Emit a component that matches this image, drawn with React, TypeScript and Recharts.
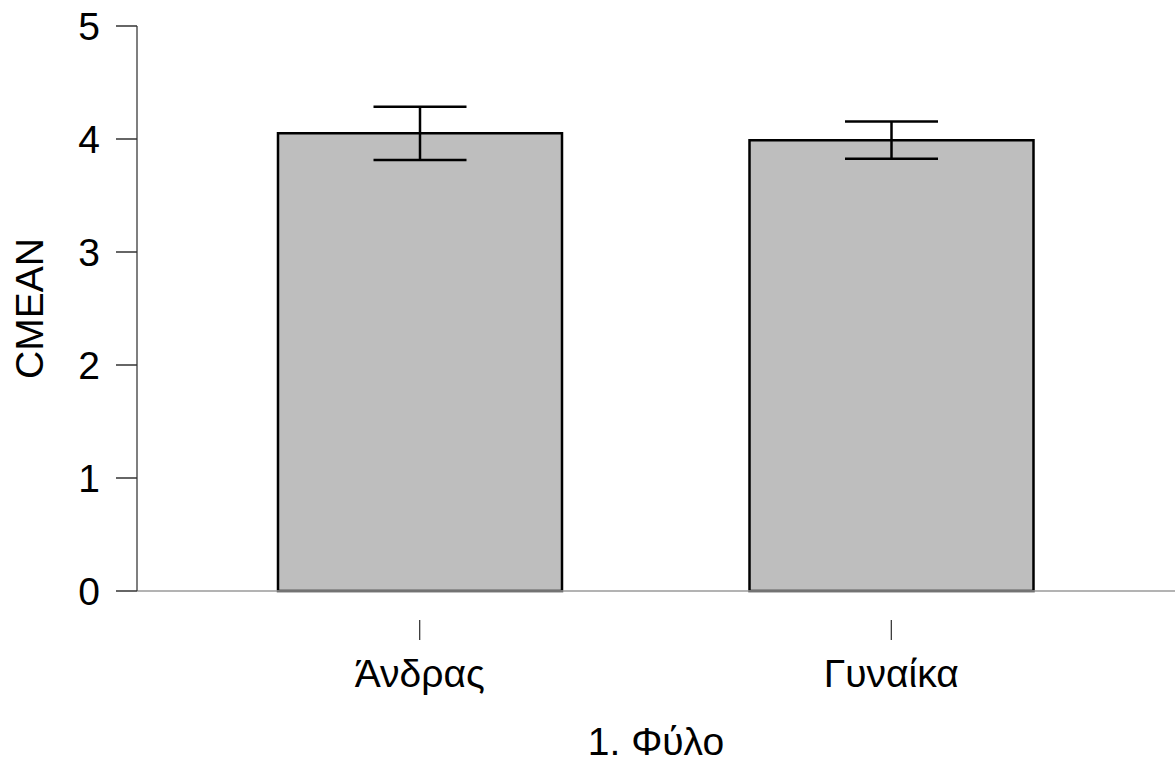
import { BarChart, Bar, XAxis, YAxis, ErrorBar, Label } from "recharts";

// group means of CMEAN by sex, with their error half-widths
const categories = ["Άνδρας", "Γυναίκα"];
const means = [4.05, 3.99];
const errors = [0.235, 0.165];
const yTicks = [0, 1, 2, 3, 4, 5];

const data = categories.map((group, i) => ({
  group,
  mean: means[i],
  err: errors[i],
}));

const FONT = "'Liberation Sans', Arial, sans-serif";
const FS = 39;

// x tick: a short mark detached from the axis line, then the label under it
const GroupTick = (props: any) => {
  const { x, y, payload } = props;
  return (
    <g>
      <line x1={x} x2={x} y1={y + 29} y2={y + 49} stroke="#000" strokeWidth={1} />
      <text
        x={x}
        y={y + 96}
        textAnchor="middle"
        fontSize={FS}
        fontFamily={FONT}
        fill="#000"
      >
        {payload.value}
      </text>
    </g>
  );
};

export default function App() {
  return (
    <div style={{ position: "absolute", left: 0, top: 0, background: "#fff" }}>
      <BarChart
        width={1175}
        height={775}
        data={data}
        margin={{ top: 26, right: 0, bottom: 0, left: 0 }}
      >
        <XAxis
          dataKey="group"
          height={184}
          padding={{ left: 47, right: 48 }}
          axisLine={{ stroke: "#9a9a9a", strokeWidth: 1.5 }}
          tickLine={false}
          tickSize={0}
          tickMargin={0}
          tick={<GroupTick />}
          interval={0}
        >
          <Label
            content={({ viewBox }: any) => (
              <text
                x={viewBox.x + viewBox.width / 2}
                y={viewBox.y + 164}
                textAnchor="middle"
                fontSize={FS}
                fontFamily={FONT}
                fill="#000"
              >
                1. Φύλο
              </text>
            )}
          />
        </XAxis>
        <YAxis
          width={137}
          domain={[0, 5]}
          ticks={yTicks}
          interval={0}
          tickSize={21}
          tickMargin={16}
          axisLine={{ stroke: "#555", strokeWidth: 1.5 }}
          tickLine={{ stroke: "#333", strokeWidth: 1.5 }}
          tick={{ fontSize: FS, fontFamily: FONT, fill: "#000" }}
        >
          <Label
            content={({ viewBox }: any) => {
              const cx = 43;
              const cy = viewBox.y + viewBox.height / 2;
              return (
                <text
                  x={cx}
                  y={cy}
                  transform={`rotate(-90, ${cx}, ${cy})`}
                  textAnchor="middle"
                  fontSize={FS}
                  fontFamily={FONT}
                  fill="#000"
                >
                  CMEAN
                </text>
              );
            }}
          />
        </YAxis>
        <Bar
          dataKey="mean"
          fill="#bebebe"
          stroke="#000"
          strokeWidth={2.5}
          barSize={284}
          isAnimationActive={false}
        >
          <ErrorBar dataKey="err" width={46.5} stroke="#000" strokeWidth={2.5} />
        </Bar>
      </BarChart>
    </div>
  );
}
